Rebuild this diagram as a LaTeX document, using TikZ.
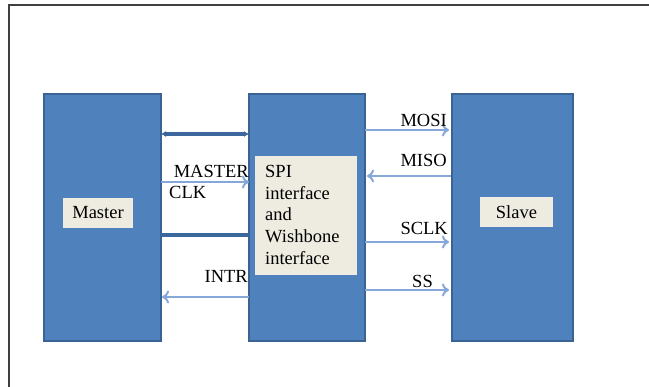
\documentclass[tikz,border=0pt]{standalone}
\usepackage{fontspec}
\setmainfont{Liberation Serif}
\newfontfamily\timesfont{Liberation Serif}
\usetikzlibrary{arrows.meta}
\definecolor{blockblue}{HTML}{4F81BD}
\definecolor{blockline}{HTML}{3A6395}
\definecolor{labelfill}{HTML}{EEECE1}
\definecolor{wireblue}{HTML}{86A8D8}
\definecolor{busblue}{HTML}{3C679D}
\tikzset{block/.style = {shape=rectangle,draw=blockline,fill=blockblue,line width=1.5pt,inner sep=0}}
\tikzset{tag/.style = {shape=rectangle,fill=labelfill,inner sep=0}}
\tikzset{sig/.style = {inner sep=0,font=\timesfont\fontsize{18.5}{21.75}\selectfont}}
\tikzset{wire/.style = {draw=wireblue,line width=2pt,-{To[length=7pt,width=13pt]}}}
\tikzset{bus/.style = {draw=busblue,line width=4pt}}

\begin{document}
\begin{tikzpicture}[x=1pt,y=-1pt]
        \useasboundingbox (0,0) rectangle (649,387);
        \draw[line width=1.5pt,draw=black!75] (649,5) -- (9,5) -- (9,387);
        % blocks
        \node[block,minimum width=117pt,minimum height=247pt] (master) at (102.5,217.5) {};
        \node[block,minimum width=116pt,minimum height=247pt] (spi) at (307,217.5) {};
        \node[block,minimum width=121pt,minimum height=247pt] (slave) at (512.5,217.5) {};
        \node[tag,minimum width=70pt,minimum height=30pt,sig] (mastertag) at (98,213) {Master};
        \node[tag,minimum width=73pt,minimum height=30pt,sig] (slavetag) at (516.5,212) {Slave};
        \node[tag,minimum width=102pt,minimum height=119pt] (spitag) at (306,215.5) {};
        \node[sig,align=left,anchor=north west] (spitext) at (265,165)
            {SPI\\interface\\and\\Wishbone\\interface};
        % master side
        \coordinate (b1m) at (161,134);
        \coordinate (b1s) at (249,134);
        \coordinate (ckm) at (161,182);
        \coordinate (cks) at (249,182);
        \coordinate (b2m) at (161,235);
        \coordinate (b2s) at (249,235);
        \coordinate (inm) at (162,297);
        \coordinate (ins) at (249,297);
        \draw[bus,{Latex[length=5pt,width=6pt]}-{Latex[length=5pt,width=6pt]}] (b1m) to (b1s);
        \draw[wire] (ckm) to (cks);
        \draw[bus] (b2m) to (b2s);
        \draw[wire] (ins) to (inm);
        \node[sig,anchor=base east] (masterlbl) at (249,178) {MASTER};
        \node[sig,anchor=base west] (clklbl) at (169,199) {CLK};
        \node[sig,anchor=base east] (intrlbl) at (248,283) {INTR};
        % slave side
        \coordinate (mo1) at (365,130);
        \coordinate (mo2) at (449,130);
        \coordinate (mi1) at (451,176);
        \coordinate (mi2) at (367,176);
        \coordinate (sc1) at (365,242);
        \coordinate (sc2) at (449,242);
        \coordinate (ss1) at (365,290);
        \coordinate (ss2) at (449,290);
        \draw[wire] (mo1) to (mo2);
        \draw[wire] (mi1) to (mi2);
        \draw[wire] (sc1) to (sc2);
        \draw[wire] (ss1) to (ss2);
        \node[sig,anchor=base east] (mosilbl) at (447,127) {MOSI};
        \node[sig,anchor=base east] (misolbl) at (447,167) {MISO};
        \node[sig,anchor=base east] (sclklbl) at (448,235) {SCLK};
        \node[sig,anchor=base east] (sslbl) at (433,288) {SS};
\end{tikzpicture}
\end{document}
